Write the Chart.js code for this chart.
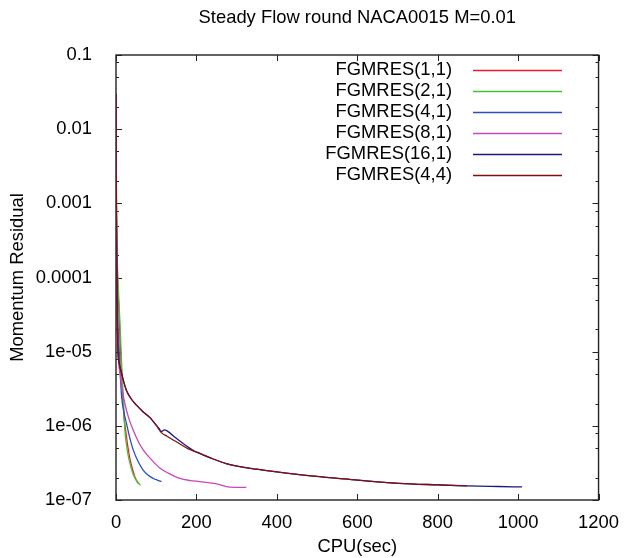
<!DOCTYPE html>
<html><head><meta charset="utf-8">
<script src="https://cdn.jsdelivr.net/npm/chart.js@4/dist/chart.umd.min.js"></script>
<style>html,body{margin:0;padding:0;background:#fff;overflow:hidden}</style>
</head><body>
<canvas id="c" width="631" height="558"></canvas>
<script>
const titleText = 'Steady Flow round NACA0015 M=0.01';
const xTitle = 'CPU(sec)';
const yTitle = 'Momentum Residual';
const xTicks = [0, 200, 400, 600, 800, 1000, 1200];
const yTicks = [1e-7, 1e-6, 1e-5, 1e-4, 1e-3, 1e-2, 1e-1];
const yTickLabels = ['1e-07', '1e-06', '1e-05', '0.0001', '0.001', '0.01', '0.1'];
const seriesLabels = ['FGMRES(1,1)', 'FGMRES(2,1)', 'FGMRES(4,1)', 'FGMRES(8,1)', 'FGMRES(16,1)', 'FGMRES(4,4)'];
const seriesColors = ['#f01a28', '#48c030', '#2850c0', '#c848b8', '#1a1a80', '#801010'];

const cpu11 = [0, 0.5, 1.5, 3, 5, 7, 10, 14, 17, 20, 23, 26, 30, 35, 41, 47, 52, 57];
const res11 = [3e-2, 4e-3, 6e-4, 1.5e-4, 7e-5, 4e-5, 1.5e-5, 5.1e-6, 2.4e-6, 1.3e-6, 9.5e-7, 7.1e-7, 5e-7, 3.5e-7, 2.6e-7, 2.05e-7, 1.8e-7, 1.65e-7];

const cpu21 = [0, 0.5, 1.5, 3, 5, 7, 10, 14, 18, 22, 26, 31, 37, 43, 50, 56, 61];
const res21 = [3e-2, 4e-3, 7e-4, 2e-4, 9e-5, 5e-5, 2.4e-5, 6.9e-6, 2.5e-6, 8.8e-7, 5.6e-7, 3.8e-7, 2.8e-7, 2.2e-7, 1.85e-7, 1.68e-7, 1.58e-7];

const cpu41 = [0, 0.5, 1.5, 3, 5, 8, 11, 14, 20, 26, 34, 43, 55, 68, 80, 93, 103, 113];
const res41 = [3e-2, 3e-3, 4e-4, 8e-5, 2.5e-5, 1e-5, 4.5e-6, 2.46e-6, 1.5e-6, 1.08e-6, 7e-7, 4.7e-7, 3.3e-7, 2.5e-7, 2.15e-7, 1.95e-7, 1.85e-7, 1.77e-7];

const cpu81 = [0, 0.5, 1.5, 3, 6, 10, 15, 22, 32, 43, 55, 68, 88, 109, 130, 159, 185, 208, 250, 283, 324];
const res81 = [3e-2, 3e-3, 3e-4, 4e-5, 8.5e-6, 5e-6, 3.2e-6, 2e-6, 1.25e-6, 8.7e-7, 6.2e-7, 4.7e-7, 3.5e-7, 2.7e-7, 2.3e-7, 1.95e-7, 1.83e-7, 1.77e-7, 1.65e-7, 1.49e-7, 1.48e-7];

const cpu161 = [0, 0.5, 1.5, 3, 5, 8, 14, 20, 26, 38, 51, 67, 84, 100, 107, 113, 120, 126, 150, 183, 200, 240, 274, 350, 456, 580, 704, 800, 873, 950, 1010];
const res161 = [3e-2, 2e-3, 2e-4, 3e-5, 1e-5, 7e-6, 5.1e-6, 3.8e-6, 3.0e-6, 2.3e-6, 1.9e-6, 1.55e-6, 1.3e-6, 1.02e-6, 9.2e-7, 8.4e-7, 8.8e-7, 8.6e-7, 6.8e-7, 5.0e-7, 4.4e-7, 3.6e-7, 3.1e-7, 2.6e-7, 2.2e-7, 1.9e-7, 1.68e-7, 1.6e-7, 1.55e-7, 1.52e-7, 1.5e-7];

const cpu44 = [0, 0.5, 1.5, 3, 5, 8, 14, 20, 26, 38, 51, 67, 84, 100, 113, 126, 150, 183, 208, 240, 274, 350, 456, 580, 704, 800, 873];
const res44 = [3e-2, 2e-3, 2e-4, 3e-5, 1e-5, 7e-6, 5.1e-6, 3.8e-6, 3.0e-6, 2.3e-6, 1.9e-6, 1.55e-6, 1.3e-6, 1.02e-6, 8.1e-7, 7.3e-7, 6.1e-7, 4.8e-7, 4.3e-7, 3.6e-7, 3.1e-7, 2.6e-7, 2.2e-7, 1.9e-7, 1.68e-7, 1.6e-7, 1.55e-7];

const xs = [cpu11, cpu21, cpu41, cpu81, cpu161, cpu44];
const ys = [res11, res21, res41, res81, res161, res44];

const FONT = '"Liberation Sans", Arial, Helvetica, sans-serif';
const FS = 18.4;

const datasets = seriesLabels.map((lab, i) => ({
  label: lab,
  data: xs[i].map((x, j) => ({x: x, y: ys[i][j]})),
  borderColor: seriesColors[i],
  backgroundColor: seriesColors[i],
  borderWidth: 1.3,
  pointRadius: 0,
  fill: false,
  cubicInterpolationMode: 'monotone',
  order: seriesLabels.length - i
}));

const framePlugin = {
  id: 'frame',
  beforeDatasetsDraw(chart) {
    const {ctx, chartArea: a, scales: {x, y}} = chart;
    ctx.save();
    ctx.strokeStyle = '#222';
    ctx.lineWidth = 1.4;
    ctx.strokeRect(a.left, a.top, a.right - a.left, a.bottom - a.top);
    ctx.lineWidth = 1;
    ctx.beginPath();
    xTicks.forEach(v => {
      const px = Math.round(x.getPixelForValue(v)) + 0.5;
      ctx.moveTo(px, a.bottom); ctx.lineTo(px, a.bottom - 6);
      ctx.moveTo(px, a.top); ctx.lineTo(px, a.top + 6);
    });
    yTicks.forEach(v => {
      const py = Math.round(y.getPixelForValue(v)) + 0.5;
      ctx.moveTo(a.left, py); ctx.lineTo(a.left + 6, py);
      ctx.moveTo(a.right, py); ctx.lineTo(a.right - 6, py);
      if (v < 0.1) {
        [2, 5, 8].forEach(m => {
          const pm = Math.round(y.getPixelForValue(v * m)) + 0.5;
          ctx.moveTo(a.left, pm); ctx.lineTo(a.left + 3, pm);
          ctx.moveTo(a.right, pm); ctx.lineTo(a.right - 3, pm);
        });
      }
    });
    ctx.stroke();
    ctx.restore();
  },
  afterDraw(chart) {
    const {ctx, chartArea: a} = chart;
    ctx.save();
    ctx.fillStyle = '#000';
    ctx.font = FS + 'px ' + FONT;
    ctx.textAlign = 'center';
    ctx.textBaseline = 'middle';
    ctx.fillText(titleText, (a.left + a.right) / 2, 18);
    ctx.textAlign = 'right';
    chart.data.datasets.forEach((ds, i) => {
      const yy = 70 + i * 21;
      ctx.fillStyle = '#000';
      ctx.fillText(ds.label, 452, yy);
      ctx.strokeStyle = ds.borderColor;
      ctx.lineWidth = 1.5;
      ctx.beginPath();
      ctx.moveTo(473, Math.round(yy) + 0.5);
      ctx.lineTo(562, Math.round(yy) + 0.5);
      ctx.stroke();
    });
    ctx.restore();
  }
};

new Chart(document.getElementById('c'), {
  type: 'line',
  data: {datasets: datasets},
  plugins: [framePlugin],
  options: {
    responsive: false,
    animation: false,
    devicePixelRatio: 1,
    layout: {padding: {top: 55, right: 31, left: 0, bottom: 0}},
    plugins: {legend: {display: false}, title: {display: false}, tooltip: {enabled: false}},
    scales: {
      x: {
        type: 'linear', min: 0, max: 1200,
        afterBuildTicks: s => { s.ticks = xTicks.map(v => ({value: v})); },
        afterFit: s => { s.height = 58; },
        grid: {display: false, drawTicks: false},
        border: {display: false},
        ticks: {color: '#000', font: {family: FONT, size: FS}, padding: 12, maxRotation: 0, autoSkip: false,
          callback: v => String(v)},
        title: {display: true, text: xTitle, color: '#000', font: {family: FONT, size: FS}, padding: {top: 0, bottom: 0}}
      },
      y: {
        type: 'logarithmic', min: 1e-7, max: 0.1,
        afterBuildTicks: s => { s.ticks = yTicks.map(v => ({value: v})); },
        afterFit: s => { s.width = 116; },
        grid: {display: false, drawTicks: false},
        border: {display: false},
        ticks: {
          color: '#000', font: {family: FONT, size: FS}, padding: 24, autoSkip: false,
          callback: (v) => {
            const k = yTicks.findIndex(t => Math.abs(Math.log10(t) - Math.log10(v)) < 1e-6);
            return k >= 0 ? yTickLabels[k] : '';
          }
        },
        title: {display: true, text: yTitle, color: '#000', font: {family: FONT, size: FS}, padding: {top: 7, bottom: 0}}
      }
    }
  }
});
</script>
</body></html>
